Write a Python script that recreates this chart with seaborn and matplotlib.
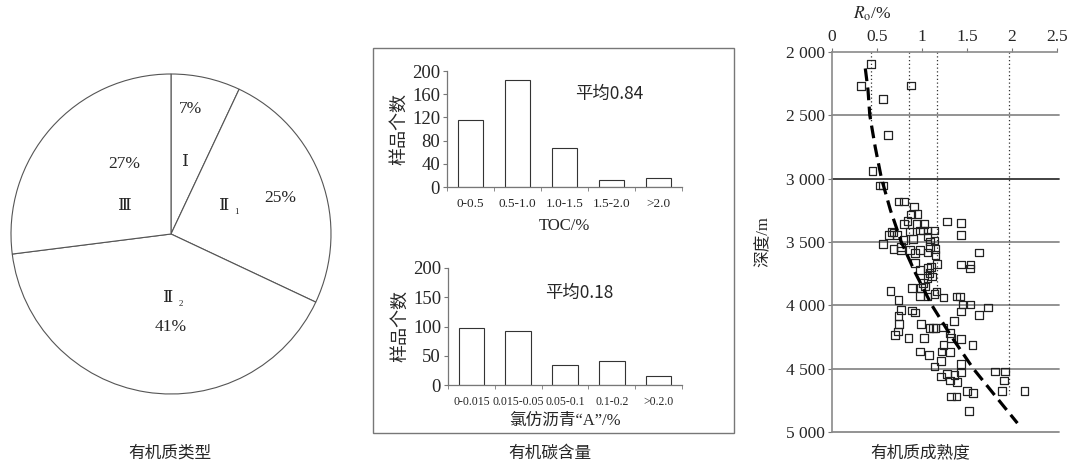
import matplotlib
matplotlib.use('Agg')
import matplotlib.pyplot as plt
from matplotlib.patches import Rectangle
import seaborn as sns

sns.set_style('ticks')
plt.rcParams['font.family'] = ['Liberation Serif', 'Noto Sans CJK SC']
plt.rcParams['mathtext.fontset'] = 'stix'
plt.rcParams['axes.unicode_minus'] = False

# 有机质类型
type_names = ['Ⅰ', 'Ⅱ1', 'Ⅱ2', 'Ⅲ']
type_shares = [7, 25, 41, 27]

# TOC 分布
toc_bins = ['0-0.5', '0.5-1.0', '1.0-1.5', '1.5-2.0', '>2.0']
toc_counts = [115, 185, 68, 12, 15]
toc_mean = 0.84

# 氯仿沥青"A" 分布
asp_bins = ['0-0.015', '0.015-0.05', '0.05-0.1', '0.1-0.2', '>0.2.0']
asp_counts = [98, 93, 35, 41, 16]
asp_mean = 0.18

# Ro - 深度
ro = [0.43, 0.32, 0.88, 0.57, 0.62, 0.45, 0.535, 0.57,
      0.74, 0.80, 0.91, 0.88, 0.95, 0.84, 0.80, 0.945, 1.02, 1.28, 1.43, 1.43,
      0.66, 0.63, 0.72, 0.86, 0.975, 1.01, 1.06, 1.14, 0.795, 0.90, 1.06, 1.09,
      1.14, 0.685,
      0.57, 0.685, 0.77, 0.77, 0.87, 0.98, 1.087, 1.15, 1.63, 0.925, 1.06, 1.15,
      0.925, 1.06, 1.10, 1.17, 1.43, 1.54, 1.53, 1.085, 1.06, 1.11, 0.975,
      1.01, 1.03, 0.65, 0.89, 0.99, 0.98, 1.06, 1.16, 1.14, 1.24, 1.385, 1.42,
      0.74, 1.45, 1.54, 1.73, 0.77, 0.89, 0.92, 1.43, 1.63, 0.74,
      0.745, 0.99, 1.085, 1.12, 1.15, 1.235, 1.355, 0.73, 0.70, 1.31, 0.85,
      1.02, 1.325, 1.43, 1.24, 1.56, 0.975, 1.215, 1.31, 1.075, 1.21, 1.435, 1.14,
      1.81, 1.92, 1.28, 1.36, 1.435, 1.21, 1.91, 1.31, 1.39, 1.89, 2.14, 1.50,
      1.57, 1.32, 1.385, 1.52]
depth = [2095, 2268, 2266, 2371, 2655, 2939, 3055, 3055,
         3181, 3181, 3221, 3284, 3281, 3335, 3360, 3358, 3358, 3339, 3352, 3444,
         3423, 3444, 3444, 3418, 3410, 3410, 3410, 3410, 3484, 3478, 3457, 3497,
         3489, 3426,
         3515, 3555, 3541, 3567, 3563, 3563, 3541, 3557, 3584, 3589, 3584, 3602,
         3668, 3707, 3695, 3673, 3678, 3678, 3710, 3747, 3786, 3773, 3720,
         3826, 3852, 3886, 3865, 3865, 3926, 3929, 3890, 3912, 3937, 3931, 3931,
         3957, 3994, 3994, 4018, 4036, 4040, 4056, 4050, 4075, 4083,
         4147, 4145, 4178, 4178, 4178, 4176, 4123, 4207, 4233, 4220, 4259,
         4259, 4259, 4268, 4312, 4312, 4365, 4365, 4370, 4391, 4439, 4465, 4484,
         4523, 4523, 4541, 4549, 4530, 4562, 4594, 4594, 4607, 4678, 4678, 4676,
         4694, 4720, 4720, 4834]

# 趋势线
trend_ro = [0.37, 0.40, 0.42, 0.48, 0.55, 0.65, 0.77, 0.93, 1.11, 1.33, 1.57, 1.82, 2.06]
trend_depth = [2130, 2300, 2500, 2750, 3000, 3250, 3500, 3750, 4000, 4250, 4500, 4720, 4930]

# 成熟度界限
ro_limits = [0.43, 0.85, 1.17, 1.97]
ro_limit_bottom = [2550, 3550, 3900, 4700]
depth_ticks = [2000, 2500, 3000, 3500, 4000, 4500, 5000]
ro_ticks = [0, 0.5, 1, 1.5, 2, 2.5]

fig = plt.figure(figsize=(10.76, 4.67), dpi=100)
W, H = 1076, 467


def box(l, t, r, b):
    return [l / W, 1 - b / H, (r - l) / W, (b - t) / H]


# ---- 饼图 ----
axp = fig.add_axes(box(9, 72, 333, 396))
axp.pie(type_shares, startangle=90, counterclock=False, colors=['white'] * 4,
        wedgeprops=dict(edgecolor='#555555', linewidth=0.8))
axp.set_xlim(-1.0125, 1.0125)
axp.set_ylim(-1.0125, 1.0125)
axp.set_aspect('equal')
fs = 12.5
roman = ['DejaVu Serif', 'Noto Sans CJK SC']
axp.text(0.125, 0.78, f'{type_shares[0]}%', ha='center', va='center', fontsize=fs)
axp.text(0.09, 0.45, type_names[0], ha='center', va='center', fontsize=fs, family=roman)
axp.text(0.33, 0.18, type_names[1][0], ha='center', va='center', fontsize=fs, family=roman)
axp.text(0.41, 0.14, type_names[1][1], ha='center', va='center', fontsize=6.5)
axp.text(0.68, 0.225, f'{type_shares[1]}%', ha='center', va='center', fontsize=fs)
axp.text(-0.02, -0.40, type_names[2][0], ha='center', va='center', fontsize=fs, family=roman)
axp.text(0.06, -0.44, type_names[2][1], ha='center', va='center', fontsize=6.5)
axp.text(0.0, -0.58, f'{type_shares[2]}%', ha='center', va='center', fontsize=fs)
axp.text(-0.29, 0.44, f'{type_shares[3]}%', ha='center', va='center', fontsize=fs)
axp.text(-0.29, 0.175, type_names[3], ha='center', va='center', fontsize=fs, family=roman)

# ---- 中间框 ----
fig.patches.append(Rectangle((373 / W, 1 - 433 / H), (734 - 373) / W, (433 - 48) / H,
                             transform=fig.transFigure, fill=False,
                             edgecolor='#777777', linewidth=1))


def hist_panel(rect, bins, counts, yticks, mean, mean_xy, xlabel, xfs, xpad):
    ax = fig.add_axes(rect)
    sns.barplot(x=bins, y=counts, ax=ax, color='white', edgecolor='#333333',
                linewidth=0.8, width=0.55, saturation=1)
    ax.set_xlim(-0.5, len(bins) - 0.5)
    ax.set_ylim(0, 200)
    ax.set_yticks(yticks)
    ax.tick_params(axis='y', labelsize=13.5, length=3, color='#777777', pad=2)
    ax.set_xticks(range(len(bins)))
    ax.set_xticklabels(bins)
    ax.set_xticks([i - 0.5 for i in range(len(bins) + 1)], minor=True)
    ax.tick_params(axis='x', which='major', length=0, labelsize=xfs, pad=8)
    ax.tick_params(axis='x', which='minor', length=3, color='#777777')
    for s in ['top', 'right']:
        ax.spines[s].set_visible(False)
    for s in ['left', 'bottom']:
        ax.spines[s].set_color('#777777')
        ax.spines[s].set_linewidth(0.9)
    ax.set_ylabel('样品个数', family=['Noto Sans CJK SC'], fontsize=13, labelpad=3)
    ax.set_xlabel(xlabel, fontsize=12, labelpad=xpad)
    ax.text(mean_xy[0], mean_xy[1], f'平均{mean}', family=['Noto Sans CJK SC'],
            fontsize=12.5, ha='center', va='center')
    return ax


hist_panel(box(447, 71, 682, 187), toc_bins, toc_counts, [0, 40, 80, 120, 160, 200],
           toc_mean, (2.95, 160), 'TOC/%', 9.5, 6)
hist_panel(box(448, 268, 682, 385), asp_bins, asp_counts, [0, 50, 100, 150, 200],
           asp_mean, (2.3, 158), '氯仿沥青“A”/%', 8.5, 3)

# ---- 散点图 ----
axs = fig.add_axes(box(832, 52, 1057, 432))
for d in depth_ticks[1:]:
    axs.axhline(d, color='#333333' if d == 3000 else '#8a8a8a', linewidth=1.3,
                xmin=0, xmax=1.01, clip_on=False, zorder=1)
for r, yb in zip(ro_limits, ro_limit_bottom):
    axs.vlines(r, 2000, yb, colors='#333333', linestyles=(0, (1, 2)), linewidth=0.9, zorder=1)
sns.scatterplot(x=ro, y=depth, ax=axs, marker='s', s=30, linewidth=0.9, zorder=3)
pts = axs.collections[-1]
pts.set_facecolor('none')
pts.set_edgecolor('#222222')
sns.lineplot(x=trend_ro, y=trend_depth, ax=axs, sort=False, estimator=None,
             color='black', linewidth=2.3, linestyle=(0, (4, 2)), zorder=4)
axs.set_xlim(0, 2.5)
axs.set_ylim(5000, 2000)
axs.xaxis.tick_top()
axs.set_xticks(ro_ticks)
axs.set_xticklabels([f'{t:g}' for t in ro_ticks])
axs.set_yticks(depth_ticks)
axs.set_yticklabels([f'{d // 1000} {d % 1000:03d}' for d in depth_ticks])
axs.tick_params(labelsize=12.5, length=3, color='#777777', pad=2)
for s in ['right', 'bottom']:
    axs.spines[s].set_visible(False)
for s in ['left', 'top']:
    axs.spines[s].set_color('#8a8a8a')
    axs.spines[s].set_linewidth(1.2)
axs.text(0.18, 1.1, '$R_\\mathrm{o}$/%', transform=axs.transAxes, fontsize=12.5,
         ha='center', va='center')
axs.set_ylabel('深度/m', fontsize=12)
axs.yaxis.set_label_coords(-0.27, 0.5)

# ---- 子图标题 ----
for x, t in [(170, '有机质类型'), (550, '有机碳含量'), (920, '有机质成熟度')]:
    fig.text(x / W, 1 - 453 / H, t, ha='center', va='center', fontsize=12,
             family=['Noto Sans CJK SC'])

fig.savefig('out.png', dpi=100)
